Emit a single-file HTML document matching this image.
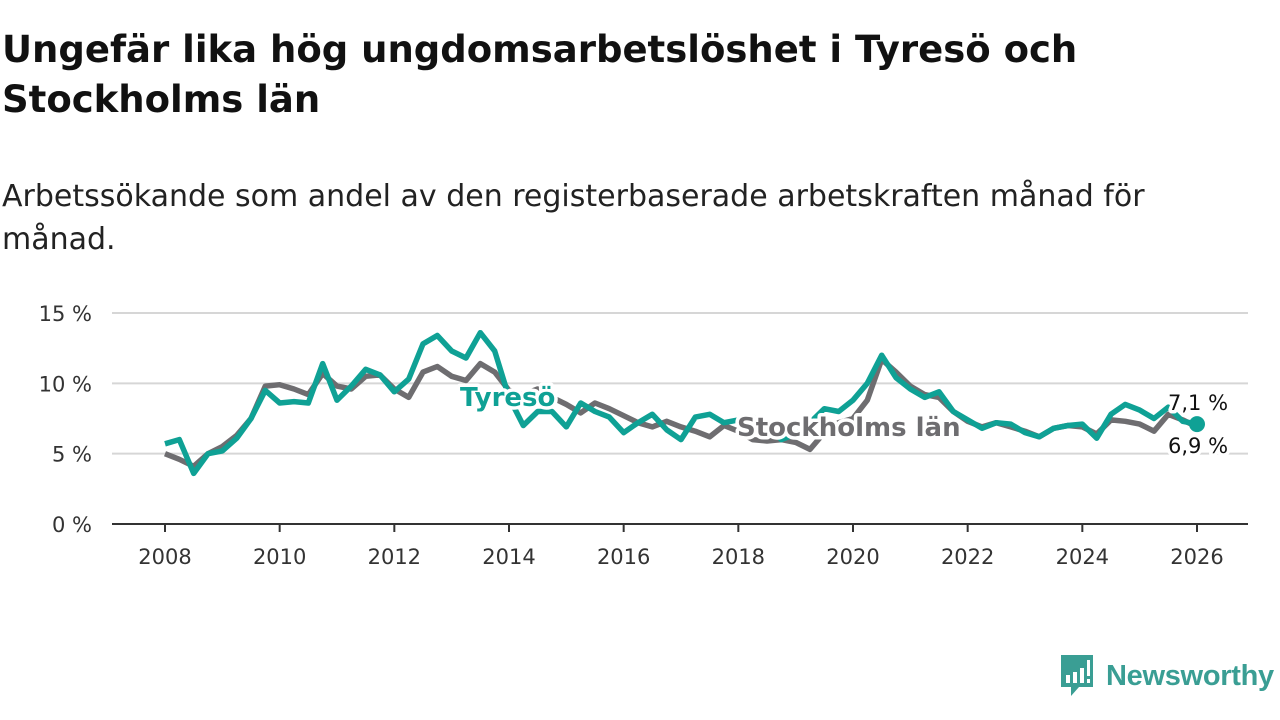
<!DOCTYPE html>
<html><head><meta charset="utf-8">
<style>
body{margin:0;background:#fff;width:1280px;height:720px;overflow:hidden;font-family:"DejaVu Sans","Liberation Sans",sans-serif;color:#111}
h1{position:absolute;left:2px;top:25px;margin:0;font-size:37px;line-height:50px;font-weight:bold;width:1200px}
.sub{position:absolute;left:2px;top:175px;margin:0;font-size:30px;line-height:43px;width:1190px;color:#222}
svg{position:absolute;left:0;top:0}
</style></head><body>
<h1>Ungefär lika hög ungdomsarbetslöshet i Tyresö och Stockholms län</h1>
<p class="sub">Arbetssökande som andel av den registerbaserade arbetskraften månad för månad.</p>
<svg id="chart" width="1280" height="720"></svg>
<script>
const startYear = 2008;
const stepsPerYear = 4;
const stockholm = [5.0,4.6,4.1,5.0, 5.5,6.3,7.5,9.8, 9.9,9.6,9.2,10.7, 9.8,9.6,10.5,10.6, 9.6,9.0,10.8,11.2, 10.5,10.2,11.4,10.8, 9.5,9.2,9.6,9.0, 8.5,7.9,8.6,8.2, 7.7,7.2,6.9,7.3, 6.9,6.6,6.2,7.0, 6.6,6.0,5.9,6.0, 5.8,5.3,6.5,7.2, 7.5,8.8,11.7,10.8, 9.8,9.2,9.0,8.0, 7.3,6.9,7.2,6.9, 6.6,6.2,6.8,7.0, 6.9,6.4,7.4,7.3, 7.1,6.6,7.8,7.4, 6.9];
const tyreso = [5.7,6.0,3.6,5.0, 5.2,6.1,7.5,9.5, 8.6,8.7,8.6,11.4, 8.8,9.8,11.0,10.6, 9.4,10.3,12.8,13.4, 12.3,11.8,13.6,12.3, 9.0,7.0,8.0,8.0, 6.9,8.6,8.0,7.6, 6.5,7.2,7.8,6.7, 6.0,7.6,7.8,7.2, 7.4,7.6,7.0,6.0, 6.4,7.2,8.2,8.0, 8.8,10.0,12.0,10.4, 9.6,9.0,9.4,8.0, 7.4,6.8,7.2,7.1, 6.5,6.2,6.8,7.0, 7.1,6.1,7.8,8.5, 8.1,7.5,8.3,7.3, 7.1];
const yTicks = [0,5,10,15];
const yTickLabels = ["0 %","5 %","10 %","15 %"];
const xTicks = [2008,2010,2012,2014,2016,2018,2020,2022,2024,2026];

const NS="http://www.w3.org/2000/svg", svg=document.getElementById('chart');
const x = yr => 165 + (yr-2008)*(1197-165)/18;
const y = v => 524 - v*(524-313)/15;
function mk(t,a){const e=document.createElementNS(NS,t);for(const k in a)e.setAttribute(k,a[k]);svg.appendChild(e);return e;}
yTicks.forEach((v,i)=>{
  if(v>0){const g=mk('line',{x1:112,x2:1248,y1:y(v),y2:y(v),stroke:'#d6d6d6','stroke-width':2});
  
  }
  const t=mk('text',{x:92,y:y(v)+8,'text-anchor':'end','font-size':21,fill:'#333'});
  
  
  t.textContent=yTickLabels[i];
});
const ax=mk('line',{x1:112,x2:1248,y1:524,y2:524,stroke:'#333','stroke-width':2});


xTicks.forEach(yr=>{
  const tk=mk('line',{x1:x(yr),x2:x(yr),y1:524,y2:532,stroke:'#333','stroke-width':2});
  
  
  const t=mk('text',{x:x(yr),y:564,'text-anchor':'middle','font-size':21,fill:'#333'});
  
  
  t.textContent=yr;
});
function path(arr){return arr.map((v,i)=>(i?'L':'M')+x(startYear+i/stepsPerYear).toFixed(1)+','+y(v).toFixed(1)).join('');}
const ls=mk('path',{d:path(stockholm),fill:'none',stroke:'#6e6d70','stroke-width':5.5,'stroke-linejoin':'round'});


const lt=mk('path',{d:path(tyreso),fill:'none',stroke:'#0fa195','stroke-width':5.5,'stroke-linejoin':'round'});


const last=tyreso.length-1;
const dot=mk('circle',{cx:x(startYear+last/stepsPerYear),cy:y(tyreso[last]),r:8,fill:'#0fa195'});


function lab(txt,xx,yy,col,name,bold,size){
  const t=mk('text',{x:xx,y:yy,'font-size':size,'font-weight':bold?'bold':'normal',fill:col,stroke:'#fff','stroke-width':7,'paint-order':'stroke','stroke-linejoin':'round'});
  
  
  t.textContent=txt;
}
lab('Tyresö',460,406,'#0fa195','tyreso-label',true,26);
lab('Stockholms län',737,436,'#6e6d70','stockholm-label',true,26);
lab('7,1 %',1168,410,'#111','tyreso-end-value',false,21);
lab('6,9 %',1168,453,'#111','stockholm-end-value',false,21);
</script>
<div style="position:absolute;left:1059px;top:655px;display:flex;align-items:center">
<svg width="36" height="42" viewBox="0 0 36 42" style="position:static"><path d="M2 0H34V32H20L12 41V32H2Z" fill="#3a9e94"/><rect x="7" y="20" width="4" height="8" fill="#fff"/><rect x="14" y="17" width="4" height="11" fill="#fff"/><rect x="21" y="13" width="4" height="15" fill="#fff"/><rect x="28" y="5" width="3" height="16" fill="#fff"/><rect x="28" y="24" width="3" height="4" fill="#fff"/></svg>
<span style="margin-left:11px;font-family:'Liberation Sans',sans-serif;font-size:29px;font-weight:bold;color:#3a9e94;letter-spacing:-0.3px">Newsworthy</span></div>
</body></html>
